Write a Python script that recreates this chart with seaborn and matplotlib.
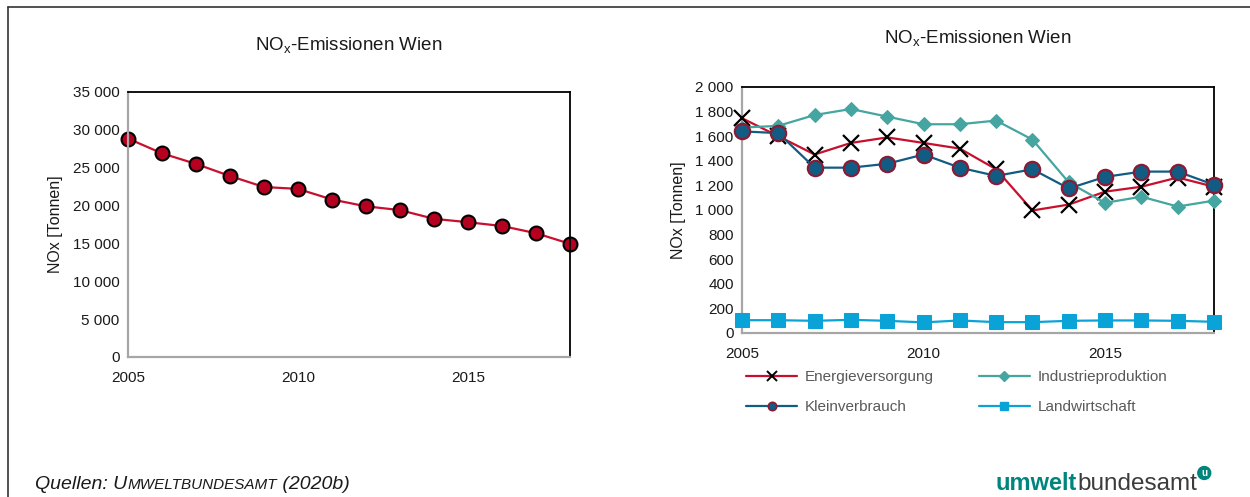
import matplotlib
matplotlib.use("Agg")
import matplotlib.pyplot as plt
import seaborn as sns
import pandas as pd
from matplotlib.ticker import MultipleLocator, FuncFormatter
from matplotlib.lines import Line2D

# ---------------- data ----------------
years = list(range(2005, 2019))
total_nox = [28850, 26900, 25500, 23900, 22450, 22200, 20800, 19900, 19400,
             18250, 17800, 17300, 16350, 14950]

energie = [1746, 1600, 1451, 1545, 1590, 1545, 1499, 1331, 996, 1044, 1149, 1189, 1264, 1189]
industrie = [1670, 1684, 1772, 1821, 1759, 1697, 1697, 1727, 1572, 1224, 1058, 1108, 1028, 1076]
klein = [1639, 1625, 1344, 1344, 1376, 1451, 1344, 1277, 1331, 1175, 1269, 1312, 1312, 1205]
land = [104, 104, 99, 107, 99, 86, 102, 88, 88, 99, 102, 102, 99, 91]

series_names = ["Energieversorgung", "Industrieproduktion", "Kleinverbrauch", "Landwirtschaft"]
title_text = r"NO$_\mathregular{x}$-Emissionen Wien"
ylabel_text = "NOx [Tonnen]"
x_ticks = [2005, 2010, 2015]

# ---------------- style ----------------
sns.set_style("white")
plt.rcParams["font.family"] = ["Liberation Sans", "DejaVu Sans"]
plt.rcParams["mathtext.fontset"] = "custom"
plt.rcParams["mathtext.rm"] = "Liberation Sans"

RED = "#C8102E"
MRED = "#B5001F"
TEAL = "#45A5A0"
DBLUE = "#125C84"
LBLUE = "#0AA3D8"
GREY_AX = "#A6A6A6"
TXT = "#1A1A1A"

fig = plt.figure(figsize=(12.5, 4.97), dpi=100)

def fmt_space(v, pos):
    return f"{int(round(v)):,}".replace(",", " ")

def style_axes(ax, ymax, ymajor, yminor):
    ax.set_xlim(2005, 2018)
    ax.set_ylim(0, ymax)
    ax.yaxis.set_major_locator(MultipleLocator(ymajor))
    ax.yaxis.set_minor_locator(MultipleLocator(yminor))
    ax.yaxis.set_major_formatter(FuncFormatter(fmt_space))
    ax.set_xticks(x_ticks)
    ax.set_xticklabels([str(t) for t in x_ticks])
    ax.xaxis.set_minor_locator(MultipleLocator(1))
    for s in ["top", "right"]:
        ax.spines[s].set_visible(True)
        ax.spines[s].set_color("black")
        ax.spines[s].set_linewidth(1.3)
    for s in ["left", "bottom"]:
        ax.spines[s].set_visible(True)
        ax.spines[s].set_color(GREY_AX)
        ax.spines[s].set_linewidth(1.6)
    ax.tick_params(axis="both", which="both", direction="out", color=GREY_AX,
                   labelsize=11, labelcolor=TXT)
    ax.tick_params(axis="both", which="major", length=4, width=1)
    ax.tick_params(axis="both", which="minor", length=3, width=1)
    ax.tick_params(axis="x", which="both", pad=6)
    ax.tick_params(axis="y", which="both", pad=2)
    ax.set_xlabel("")
    ax.set_ylabel(ylabel_text, fontsize=11.5, color=TXT, labelpad=7)

# ---------------- left chart ----------------
ax1 = fig.add_axes([0.1024, 0.2817, 0.3536, 0.5332])
df1 = pd.DataFrame({"Jahr": years, "NOx": total_nox})
sns.lineplot(data=df1, x="Jahr", y="NOx", ax=ax1, color=RED, linewidth=1.6,
             marker="o", markersize=10, markerfacecolor=MRED,
             markeredgecolor="black", markeredgewidth=1.5, clip_on=False)
style_axes(ax1, 35000, 5000, 1000)
ax1.set_title(title_text, fontsize=13.5, color=TXT, pad=30)

# ---------------- right chart ----------------
ax2 = fig.add_axes([0.5936, 0.33, 0.3776, 0.495])
df2 = pd.DataFrame({"Jahr": years, series_names[0]: energie, series_names[1]: industrie,
                    series_names[2]: klein, series_names[3]: land})

sns.lineplot(data=df2, x="Jahr", y=series_names[0], ax=ax2, color=RED, linewidth=1.6,
             marker="x", markersize=12, markeredgecolor="black", markeredgewidth=1.6,
             clip_on=False, zorder=3)
sns.lineplot(data=df2, x="Jahr", y=series_names[1], ax=ax2, color=TEAL, linewidth=1.6,
             marker="D", markersize=7.5, markerfacecolor=TEAL, markeredgecolor=TEAL,
             clip_on=False, zorder=3)
sns.lineplot(data=df2, x="Jahr", y=series_names[2], ax=ax2, color=DBLUE, linewidth=1.6,
             marker="o", markersize=11, markerfacecolor=DBLUE, markeredgecolor="#8B1A35",
             markeredgewidth=1.6, clip_on=False, zorder=4)
sns.lineplot(data=df2, x="Jahr", y=series_names[3], ax=ax2, color=LBLUE, linewidth=1.6,
             marker="s", markersize=10, markerfacecolor=LBLUE, markeredgecolor=LBLUE,
             clip_on=False, zorder=4)
style_axes(ax2, 2000, 200, 50)
ax2.set_title(title_text, fontsize=13.5, color=TXT, pad=31)

h_energie = Line2D([], [], color=RED, lw=1.6, marker="x", markersize=7, markeredgecolor="black", markeredgewidth=1.4)
h_industrie = Line2D([], [], color=TEAL, lw=1.6, marker="D", markersize=5, markerfacecolor=TEAL, markeredgecolor=TEAL)
h_klein = Line2D([], [], color=DBLUE, lw=1.6, marker="o", markersize=6, markerfacecolor=DBLUE,
                 markeredgecolor="#8B1A35", markeredgewidth=1.2)
h_land = Line2D([], [], color=LBLUE, lw=1.6, marker="s", markersize=6, markerfacecolor=LBLUE, markeredgecolor=LBLUE)
# legend fills column-wise: order so rows read Energie|Industrie, Klein|Land
leg = ax2.legend([h_energie, h_klein, h_industrie, h_land],
                 [series_names[0], series_names[2], series_names[1], series_names[3]],
                 ncol=2, loc="upper left",
                 bbox_to_anchor=(-0.02, -0.095), frameon=False, fontsize=11,
                 handlelength=3.3, handletextpad=0.5, columnspacing=3.0,
                 labelspacing=1.05, labelcolor="#595959")

# ---------------- frame, source, logo ----------------
fig.add_artist(Line2D([8 / 1250, 1.0], [1 - 7 / 497, 1 - 7 / 497], color="#333333", lw=1.2))
fig.add_artist(Line2D([8 / 1250, 8 / 1250], [0, 1 - 7 / 497], color="#333333", lw=1.2))

renderer = fig.canvas.get_renderer()
W, H = fig.bbox.width, fig.bbox.height

def chain_text(x_px, y_base_px, parts):
    """Write text pieces one after another on a common baseline (pixel coords from top-left)."""
    x = x_px
    last = None
    for s, kw in parts:
        t = fig.text(x / W, 1 - y_base_px / H, s, va="baseline", ha="left", **kw)
        bb = t.get_window_extent(renderer)
        x = bb.x1
        last = t
    return x, last

chain_text(35, 489, [
    ("Quellen: U", dict(fontsize=14, style="italic", color=TXT)),
    ("MWELTBUNDESAMT", dict(fontsize=11, style="italic", color=TXT)),
    (" (2020b)", dict(fontsize=14, style="italic", color=TXT)),
])

xend, lastt = chain_text(996, 490, [
    ("umwelt", dict(fontsize=17, fontweight="bold", color="#00857D")),
    ("bundesamt", dict(fontsize=17.5, color="#3C3C3C")),
])
fig.text((xend + 7) / W, 1 - 473 / H, "u", fontsize=7, fontweight="bold", color="white",
         va="center", ha="center",
         bbox=dict(boxstyle="circle,pad=0.15", fc="#00857D", ec="#00857D"))

fig.savefig("out.png", dpi=100)
